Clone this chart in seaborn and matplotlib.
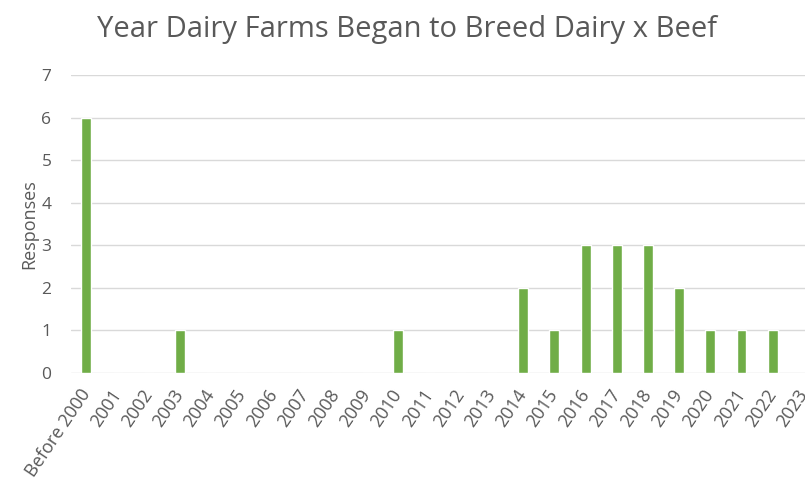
import pandas as pd
import seaborn as sns
import matplotlib.pyplot as plt

# --------- Data ---------
years = ["Before 2000"] + [str(y) for y in range(2001, 2024)]
responses = [6, 0, 0, 1, 0, 0, 0, 0, 0, 0,
             1, 0, 0, 0, 2, 1, 3, 3, 3, 2,
             1, 1, 1, 0]
y_ticks = [0, 1, 2, 3, 4, 5, 6, 7]

df = pd.DataFrame({"Year": years, "Responses": responses})

# --------- Style ---------
sns.set_style("white")
plt.rcParams["font.family"] = ["Open Sans", "DejaVu Sans"]
TEXT = "#595959"
GRID = "#D9D9D9"
BAR = "#70AD47"

fig = plt.figure(figsize=(8.05, 4.87), dpi=100)
ax = fig.add_axes([0.088, 0.234, 0.930, 0.612])

sns.barplot(data=df, x="Year", y="Responses", color=BAR, width=0.32,
            saturation=1, ax=ax, zorder=3)

ax.set_ylim(0, 7)
ax.set_xlim(-0.5, len(years) - 0.5)
ax.set_yticks(y_ticks)
ax.yaxis.grid(True, color=GRID, linewidth=1, zorder=0)
ax.set_axisbelow(True)
for s in ax.spines.values():
    s.set_visible(False)
ax.tick_params(axis="both", length=0, colors=TEXT, labelsize=12.5)
ax.tick_params(axis="x", labelsize=13, pad=13)
ax.tick_params(axis="y", pad=14)
plt.setp(ax.get_xticklabels(), rotation=56, ha="right", va="center",
         rotation_mode="anchor")

ax.set_xlabel("")
ax.set_ylabel("Responses", color=TEXT, fontsize=13, labelpad=2)
fig.text(0.506, 0.94, "Year Dairy Farms Began to Breed Dairy x Beef",
         ha="center", va="center", fontsize=21, color=TEXT)

fig.savefig("out.png", dpi=100)
plt.close()
